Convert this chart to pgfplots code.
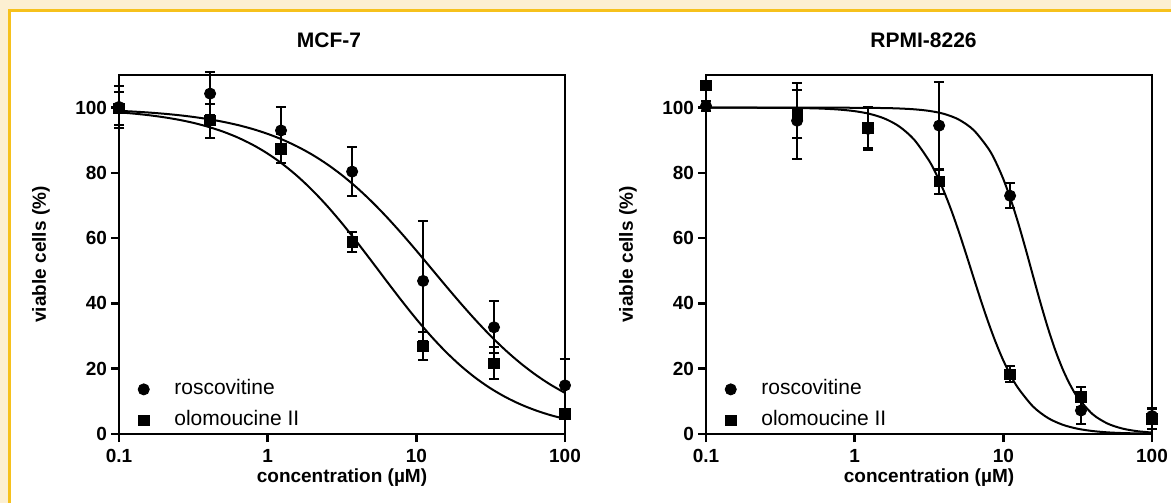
\documentclass[border=0pt]{standalone}
\usepackage{fontspec}
\setmainfont{Liberation Sans}
\usepackage{pgfplots}
\pgfplotsset{compat=1.18}
\definecolor{frameCream}{HTML}{FCEFD1}
\definecolor{frameYellow}{HTML}{F6C11C}

\pgfplotsset{
  every axis/.append style={
    scale only axis, width=223pt, height=179.5pt,
    xmin=0.1, xmax=100, ymin=0, ymax=110,
    xtick={0.1,1,10,100}, xticklabels={0.1,1,10,100},
    ytick={0,20,40,60,80,100},
    xminorticks=false,
    xtick pos=left, ytick pos=left, tick align=outside,
    axis line style={line width=1.3pt},
    major tick length=4pt,
    clip=false,
    tick label style={font=\fontsize{9.5}{11}\bfseries\selectfont},
    yticklabel style={xshift=1.5pt},
    label style={font=\fontsize{9.5}{11}\bfseries\selectfont},
    title style={font=\fontsize{10.5}{12}\bfseries\selectfont, yshift=4pt},
    legend style={draw=none, fill=none, at={(0.042,0.141)}, anchor=north west,
      inner sep=0pt, row sep=10pt, column sep=12.5pt,
      nodes={inner sep=0pt, text height=5.5pt, text depth=0pt, font=\fontsize{10.5}{12}\selectfont}},
    legend cell align=left,
  },
  every tick/.style={black, line width=1.3pt},
  every axis x label/.style={at={(0.5,0)}, yshift=-22pt, anchor=center},
  every axis y label/.style={at={(0,0.5)}, xshift=-39pt, rotate=90, anchor=center},
}

\begin{document}
\begin{tikzpicture}
% page frame
\fill[frameCream] (0,0) rectangle (585.5pt,251.5pt);
\fill[frameYellow] (4pt,0) rectangle (585.5pt,247pt);
\fill[white] (5.5pt,0) rectangle (585.5pt,245.5pt);

\begin{semilogxaxis}[at={(59.5pt,34.5pt)}, anchor=south west,
  /pgf/number format/assume math mode=true,
  title={MCF-7}, title style={xshift=-6.5pt},
  xlabel={concentration (µM)}, ylabel={viable cells (\%)}]
% fitted curves
\addplot[black, line width=1pt, smooth, no marks, forget plot] coordinates {
  (0.1,99.03) (0.12589,98.79) (0.15849,98.50) (0.19953,98.14) (0.25119,97.70)
  (0.31623,97.15) (0.39811,96.48) (0.50119,95.66) (0.63096,94.66) (0.79433,93.44)
  (1,91.96) (1.2589,90.19) (1.5849,88.07) (1.9953,85.58) (2.5119,82.66)
  (3.1623,79.30) (3.9811,75.48) (5.0119,71.21) (6.3096,66.52) (7.9433,61.49)
  (10,56.20) (12.589,50.76) (15.849,45.30) (19.953,39.96) (25.119,34.84)
  (31.623,30.05) (39.811,25.66) (50.119,21.72) (63.096,18.23) (79.433,15.19) (100,12.58)
};
\addplot[black, line width=1pt, smooth, no marks, forget plot] coordinates {
  (0.1,98.56) (0.12589,98.17) (0.15849,97.69) (0.19953,97.07) (0.25119,96.30)
  (0.31623,95.34) (0.39811,94.13) (0.50119,92.65) (0.63096,90.82) (0.79433,88.60)
  (1,85.92) (1.2589,82.73) (1.5849,79.00) (1.9953,74.71) (2.5119,69.88)
  (3.1623,64.56) (3.9811,58.85) (5.0119,52.90) (6.3096,46.86) (7.9433,40.92)
  (10,35.22) (12.589,29.92) (15.849,25.11) (19.953,20.84) (25.119,17.13)
  (31.623,13.97) (39.811,11.31) (50.119,9.10) (63.096,7.29) (79.433,5.81) (100,4.62)
};
% measured points
\addplot[only marks, black, mark=*, mark size=2.8pt, mark options={fill=black, solid},
  error bars/.cd, y dir=both, y explicit,
  error bar style={line width=1pt, black},
  error mark options={rotate=90, mark size=2.6pt, line width=1pt, black}] coordinates {
  (0.1,100.2) +- (0,6.3)
  (0.41,104.3) +- (0,6.7)
  (1.23,93) +- (0,7.2)
  (3.7,80.4) +- (0,7.6)
  (11.1,46.9) +- (0,18.3)
  (33.3,32.7) +- (0,8)
  (100,14.9) +- (0,8.2)
};
\addplot[only marks, black, mark=square*, mark size=2.6pt, mark options={fill=black, solid},
  error bars/.cd, y dir=both, y explicit,
  error bar style={line width=1pt, black},
  error mark options={rotate=90, mark size=2.6pt, line width=1pt, black}] coordinates {
  (0.1,99.8) +- (0,5)
  (0.41,96) +- (0,5.2)
  (1.23,87.4) +- (0,4.4)
  (3.7,58.9) +- (0,3)
  (11.1,26.9) +- (0,4.3)
  (33.3,21.7) +- (0,5)
  (100,6.1) +- (0,1.5)
};
\legend{roscovitine,olomoucine II}
\end{semilogxaxis}

\begin{semilogxaxis}[at={(353pt,34.5pt)}, anchor=south west,
  /pgf/number format/assume math mode=true,
  title={RPMI-8226}, title style={xshift=-2.75pt},
  xlabel={concentration (µM)}, ylabel={viable cells (\%)}]
\addplot[black, line width=1pt, smooth, no marks, forget plot] coordinates {
  (0.1,100.00) (0.31623,100.00) (1,99.96) (1.5849,99.87) (1.9953,99.74) (2.5119,99.49)
  (3.1623,99.01) (3.9811,98.10) (5.0119,96.35) (6.3096,93.13) (7.9433,87.42)
  (8.9125,83.26) (10,78.09) (11.220,71.85) (12.589,64.63) (14.125,56.69)
  (15.849,48.38) (17.783,40.17) (19.953,32.47) (22.387,25.61) (25.119,19.78)
  (28.184,15.01) (31.623,11.23) (39.811,6.09) (50.119,3.22) (63.096,1.68)
  (79.433,0.87) (100,0.45)
};
\addplot[black, line width=1pt, smooth, no marks, forget plot] coordinates {
  (0.1,100.00) (0.31623,99.94) (0.50119,99.81) (0.63096,99.66) (0.79433,99.39)
  (1,98.92) (1.2589,98.10) (1.5849,96.67) (1.9953,94.23) (2.5119,90.19)
  (3.1623,83.79) (3.5481,79.49) (3.9811,74.40) (4.4668,68.55) (5.0119,62.04)
  (5.6234,55.07) (6.3096,47.88) (7.0795,40.80) (7.9433,34.07) (8.9125,27.93)
  (10,22.51) (11.220,17.89) (12.589,14.04) (15.849,8.41) (19.953,4.91)
  (25.119,2.82) (31.623,1.61) (39.811,0.91) (50.119,0.51) (63.096,0.29) (100,0.09)
};
\addplot[only marks, black, mark=*, mark size=2.8pt, mark options={fill=black, solid},
  error bars/.cd, y dir=both, y explicit,
  error bar style={line width=1pt, black},
  error mark options={rotate=90, mark size=2.6pt, line width=1pt, black}] coordinates {
  (0.1,100.5) +- (0,1.5)
  (0.41,96) +- (0,11.7)
  (1.23,93.5) +- (0,6.5)
  (3.7,94.5) +- (0,13.5)
  (11.1,73) +- (0,3.8)
  (33.3,7.2) +- (0,4)
  (100,5.5) +- (0,2.5)
};
\addplot[only marks, black, mark=square*, mark size=2.6pt, mark options={fill=black, solid},
  error bars/.cd, y dir=both, y explicit,
  error bar style={line width=1pt, black},
  error mark options={rotate=90, mark size=2.6pt, line width=1pt, black}] coordinates {
  (0.1,106.8) +- (0,1)
  (0.41,98) +- (0,7.3)
  (1.23,93.8) +- (0,6.3)
  (3.7,77.4) +- (0,3.9)
  (11.1,18.3) +- (0,2.5)
  (33.3,11.4) +- (0,3)
  (100,4.6) +- (0,3)
};
\legend{roscovitine,olomoucine II}
\end{semilogxaxis}
\pgfresetboundingbox
\path (0,0) rectangle (585.5pt,251.5pt);
\end{tikzpicture}
\end{document}
